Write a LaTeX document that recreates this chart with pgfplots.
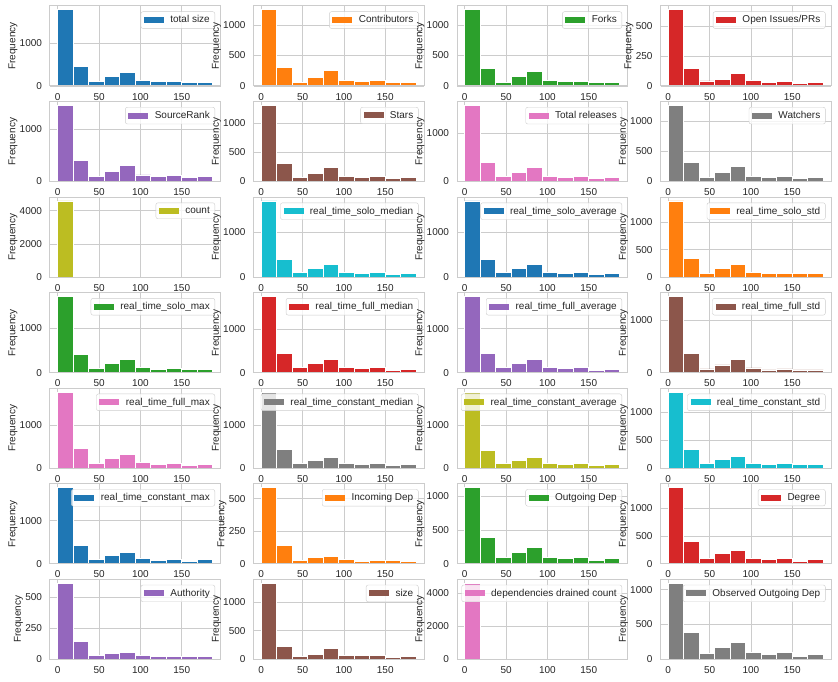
\documentclass[border=0pt]{standalone}
\usepackage{fontspec}
\setmainfont{Liberation Sans}
\usepackage{pgfplots}
\usepackage{pgfplotstable}
\pgfplotsset{compat=1.18}

\definecolor{c0}{HTML}{1F77B4}
\definecolor{c1}{HTML}{FF7F0E}
\definecolor{c2}{HTML}{2CA02C}
\definecolor{c3}{HTML}{D62728}
\definecolor{c4}{HTML}{9467BD}
\definecolor{c5}{HTML}{8C564B}
\definecolor{c6}{HTML}{E377C2}
\definecolor{c7}{HTML}{7F7F7F}
\definecolor{c8}{HTML}{BCBD22}
\definecolor{c9}{HTML}{17BECF}
\definecolor{gridc}{HTML}{CCCCCC}
\definecolor{txt}{HTML}{262626}

% bin edges (first column) and histogram counts of the 28 series
\pgfplotstableread{
edge   s1   s2   s3   s4  s5   s6   s7   s8   s9   s10  s11  s12  s13  s14  s15  s16  s17  s18  s19  s20  s21  s22 s23  s24  s25 s26  s27  s28
0      1785 1250 1250 636 1450 1305 1570 1270 4600 1700 1700 1395 1712 1750 1730 1445 1775 1775 1775 1355 1765 585 1132 1375 613 1335 4600 1095
18.75  458  304  288  147 403  312  386  313  0    391  395  340  406  438  440  359  453  430  406  327  430  143 397  408  142 221  0    391
37.5   108  65   60   42  100  74   97   61   0    98   98   62   90   115  115  70   102  102  102  77   108  28  95   98   29  47   0    87
56.25  225  141  158  56  195  142  179  145  0    188  188  154  203  208  205  147  219  172  172  149  200  51  171  189  45  81   0    174
75     326  255  239  106 308  244  283  246  0    278  278  228  293  300  300  244  313  242  242  202  269  59  246  244  53  186  0    246
93.75  140  92   92   47  126  91   97   78   0    98   98   80   113  115  115  90   125  102  102  77   131  36  95   98   29  64   0    101
112.5  108  76   76   31  100  74   76   61   0    75   75   62   68   92   90   51   78   78   78   60   85   20  80   79   21  64   0    72
131.25 108  92   76   39  120  91   97   78   0    98   98   62   90   115  110  70   102  102  102  77   108  28  95   98   21  64   0    101
150    85   60   60   22  82   57   55   45   0    53   53   62   68   46   40   51   55   55   55   60   62   28  50   43   21  29   0    43
168.75 85   60   60   31  100  74   76   61   0    75   75   62   68   69   70   51   78   78   78   60   108  20  80   79   21  47   0    72
187.5  0    0    0    0   0    0    0    0    0    0    0    0    0    0    0    0    0    0    0    0    0    0   0    0    0   0    0    0
}\hdata

\pgfplotsset{
  hist/.style={
    scale only axis, width=170.5pt, height=80pt, anchor=north west,
    xmin=-9.375, xmax=196.875, ymin=0,
    xtick={0,50,100,150},
    xmajorgrids, ymajorgrids,
    major grid style={gridc, line width=0.8pt},
    axis line style={gridc, line width=1pt},
    tick style={draw=none},
    tick label style={font=\fontsize{10}{12}\selectfont, text=txt},
    yticklabel style={xshift=-4.5pt},
    xticklabel style={yshift=-3.5pt},
    ylabel={Frequency},
    ylabel style={font=\fontsize{10}{12}\selectfont, text=txt},
    ylabel shift=-4.5pt,
    scaled y ticks=false,
    /pgf/number format/assume math mode=true,
    /pgf/number format/1000 sep={},
    legend style={at={(1,1)}, anchor=north east, xshift=-5.5pt, yshift=-5.5pt,
      draw=gridc, rounded corners=2pt, fill=white, fill opacity=0.8,
      draw opacity=1, text opacity=1,
      font=\fontsize{10}{12}\selectfont, text=txt,
      inner xsep=3pt, inner ysep=2pt, nodes={inner sep=2pt}},
    legend cell align=left,
  },
  bars/.style={ybar interval, fill=#1, draw=white, line width=0.8pt,
    legend image code/.code={\fill[fill=#1, draw=none, fill opacity=1, sharp corners] (0pt,-3pt) rectangle (20pt,3pt); \path (24pt,0pt);}},
}

\newcommand{\hp}[7]{%
\begin{axis}[hist, at={(#1pt,-#2pt)}, ytick={#5}, ymax=#6]
\addplot[bars=#3] table[x=edge, y=#4] {\hdata};
\legend{#7}
\draw[gridc, line width=1pt] (rel axis cs:0,0) -- (rel axis cs:1,0);
\end{axis}}

\begin{document}
\begin{tikzpicture}
\useasboundingbox (0,0) rectangle (838pt,-682pt);
\hp{50}{6}{c0}{s1}{0,1000}{1874}{total size}
\hp{253.5}{6}{c1}{s2}{0,500,1000}{1312.5}{Contributors}
\hp{457}{6}{c2}{s3}{0,500,1000}{1312.5}{Forks}
\hp{660.5}{6}{c3}{s4}{0,250,500}{667.8}{Open Issues/PRs}
\hp{50}{101.55}{c4}{s5}{0,1000}{1522.5}{SourceRank}
\hp{253.5}{101.55}{c5}{s6}{0,500,1000}{1370.25}{Stars}
\hp{457}{101.55}{c6}{s7}{0,1000}{1648.5}{Total releases}
\hp{660.5}{101.55}{c7}{s8}{0,500,1000}{1333.5}{Watchers}
\hp{50}{197.1}{c8}{s9}{0,2000,4000}{4830}{count}
\hp{253.5}{197.1}{c9}{s10}{0,1000}{1785}{real\_time\_solo\_median}
\hp{457}{197.1}{c0}{s11}{0,1000}{1785}{real\_time\_solo\_average}
\hp{660.5}{197.1}{c1}{s12}{0,500,1000}{1464.75}{real\_time\_solo\_std}
\hp{50}{292.65}{c2}{s13}{0,1000}{1797.6}{real\_time\_solo\_max}
\hp{253.5}{292.65}{c3}{s14}{0,1000}{1837.5}{real\_time\_full\_median}
\hp{457}{292.65}{c4}{s15}{0,1000}{1816.5}{real\_time\_full\_average}
\hp{660.5}{292.65}{c5}{s16}{0,1000}{1517.25}{real\_time\_full\_std}
\hp{50}{388.2}{c6}{s17}{0,1000}{1863.75}{real\_time\_full\_max}
\hp{253.5}{388.2}{c7}{s18}{0,1000}{1863.75}{real\_time\_constant\_median}
\hp{457}{388.2}{c8}{s19}{0,1000}{1863.75}{real\_time\_constant\_average}
\hp{660.5}{388.2}{c9}{s20}{0,500,1000}{1422.75}{real\_time\_constant\_std}
\hp{50}{483.75}{c0}{s21}{0,1000}{1853.25}{real\_time\_constant\_max}
\hp{253.5}{483.75}{c1}{s22}{0,250,500}{614.25}{Incoming Dep}
\hp{457}{483.75}{c2}{s23}{0,500,1000}{1188.6}{Outgoing Dep}
\hp{660.5}{483.75}{c3}{s24}{0,500,1000}{1443.75}{Degree}
\hp{50}{579.3}{c4}{s25}{0,250,500}{643.65}{Authority}
\hp{253.5}{579.3}{c5}{s26}{0,500,1000}{1401.75}{size}
\hp{457}{579.3}{c6}{s27}{0,2000,4000}{4830}{dependencies drained count}
\hp{660.5}{579.3}{c7}{s28}{0,500,1000}{1149.75}{Observed Outgoing Dep}
\end{tikzpicture}
\end{document}
